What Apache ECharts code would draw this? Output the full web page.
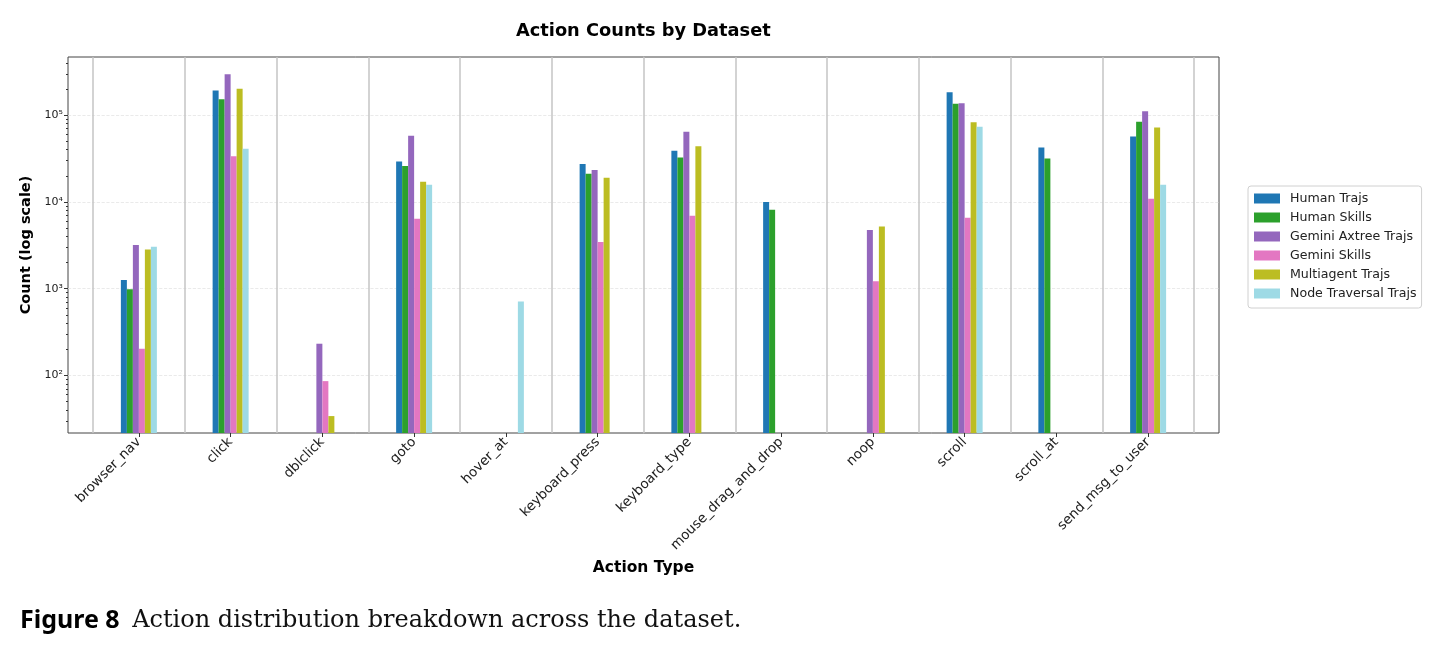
<!DOCTYPE html>
<html>
<head>
<meta charset="utf-8">
<title>Action Counts by Dataset</title>
<script src="https://cdn.jsdelivr.net/npm/echarts@6/dist/echarts.min.js"></script>
<style>
  html, body { margin: 0; padding: 0; background: #fff; }
  #chart { width: 1444px; height: 654px; }
</style>
</head>
<body>
<div id="chart"></div>
<script>
// categories on the x axis
const categories = [
  'browser_nav', 'click', 'dblclick', 'goto', 'hover_at', 'keyboard_press',
  'keyboard_type', 'mouse_drag_and_drop', 'noop', 'scroll', 'scroll_at', 'send_msg_to_user',
];

// counts per dataset (null = no bar)
const humanTrajs = [1260, 192000, null, 29200, null, 27300, 38800, 10000, null, 184000, 42400, 56800];
const humanSkills = [985, 153000, null, 25900, null, 21100, 32500, 8100, null, 135000, 31700, 83800];
const geminiAxtreeTrajs = [3190, 296000, 232, 57800, null, 23300, 64300, null, 4750, 137000, null, 111000];
const geminiSkills = [203, 33700, 86, 6400, null, 3450, 6930, null, 1220, 6580, null, 10900];
const multiagentTrajs = [2820, 201000, 34, 17100, null, 19000, 43900, null, 5220, 83000, null, 71900];
const nodeTraversalTrajs = [3050, 40900, null, 15800, 711, null, null, null, null, 73300, null, 15800];

// y axis ticks
const yTicks = [100, 1000, 10000, 100000];
const yTickLabels = ['10²', '10³', '10⁴', '10⁵'];
const yMin = 21.7;
const yMax = 468000;

let minorTicks = [];
[10, 100, 1000, 10000, 100000].forEach(d => {
  for (let k = 2; k <= 9; k++) {
    let v = k * d;
    if (v > yMin && v < yMax) minorTicks.push(v);
  }
});

const seriesList = [
  { name: 'Human Trajs', color: '#1f77b4', data: humanTrajs },
  { name: 'Human Skills', color: '#2ca02c', data: humanSkills },
  { name: 'Gemini Axtree Trajs', color: '#9467bd', data: geminiAxtreeTrajs },
  { name: 'Gemini Skills', color: '#e377c2', data: geminiSkills },
  { name: 'Multiagent Trajs', color: '#bcbd22', data: multiagentTrajs },
  { name: 'Node Traversal Trajs', color: '#9edae5', data: nodeTraversalTrajs },
];

const font = 'DejaVu Sans';

let option = {
  animation: false,
  backgroundColor: '#fff',
  textStyle: { fontFamily: font },
  title: [
    {
      text: 'Action Counts by Dataset',
      left: 516,
      top: 22,
      padding: 0,
      textStyle: { fontFamily: font, fontSize: 17.8, fontWeight: 'bold', color: '#000' },
    },
    {
      text: '{b|Figure 8}  {s|Action distribution breakdown across the dataset.}',
      left: 20,
      top: 608,
      padding: 0,
      textStyle: {
        rich: {
          b: { fontFamily: 'Noto Sans', fontWeight: 'bold', fontSize: 25, color: '#000' },
          s: { fontFamily: 'DejaVu Serif', fontWeight: 'normal', fontSize: 24, color: '#111' },
        },
      },
    },
  ],
  legend: {
    orient: 'vertical',
    left: 1248,
    top: 186,
    padding: [6, 5, 8, 6],
    itemGap: 6,
    itemWidth: 26,
    itemHeight: 10,
    icon: 'rect',
    borderColor: '#d0d0d0',
    borderWidth: 1,
    borderRadius: 3,
    textStyle: { fontFamily: font, fontSize: 12.6, color: '#222', lineHeight: 12, padding: [0, 0, 0, 5] },
    data: seriesList.map(s => s.name),
  },
  grid: [
    // bars grid (category boundaries)
    { left: 93, right: 250, top: 57, bottom: 221 },
    // frame grid
    { left: 68, right: 225, top: 57, bottom: 221, show: true, borderColor: '#444', borderWidth: 1 },
  ],
  xAxis: [
    {
      type: 'category',
      gridIndex: 0,
      data: categories,
      boundaryGap: true,
      name: 'Action Type',
      nameLocation: 'middle',
      nameGap: 117,
      nameTextStyle: { fontFamily: font, fontSize: 15.5, fontWeight: 'bold', color: '#000' },
      axisLine: { show: false },
      axisTick: { show: true, alignWithLabel: true, length: 4, lineStyle: { color: '#333' } },
      axisLabel: { rotate: 45, margin: 7, fontSize: 13.5, color: '#222', interval: 0 },
      splitLine: { show: true, lineStyle: { color: '#c4c4c4', width: 1.5 } },
    },
    { type: 'value', gridIndex: 1, min: 0, max: 1, show: false },
  ],
  yAxis: [
    { type: 'log', gridIndex: 0, logBase: 10, min: yMin, max: yMax, show: false },
    {
      type: 'log',
      gridIndex: 1,
      position: 'left',
      logBase: 10,
      min: yMin,
      max: yMax,
      name: 'Count (log scale)',
      nameLocation: 'middle',
      nameGap: 23,
      nameTextStyle: { fontFamily: font, fontSize: 14.5, fontWeight: 'bold', color: '#000' },
      axisLine: { show: false },
      axisTick: { show: true, length: 4, customValues: yTicks, lineStyle: { color: '#333' } },
      axisLabel: {
        customValues: yTicks,
        fontSize: 11,
        color: '#222',
        margin: 5,
        formatter: v => yTickLabels[yTicks.indexOf(Math.round(v))] || '',
      },
      splitLine: { show: true, lineStyle: { color: '#e4e4e4', type: 'dashed', width: 0.8 } },
    },
    {
      // minor ticks
      type: 'log',
      gridIndex: 1,
      position: 'left',
      logBase: 10,
      min: yMin,
      max: yMax,
      axisLine: { show: false },
      axisTick: { show: true, length: 2, customValues: minorTicks, lineStyle: { color: '#333' } },
      axisLabel: { show: false },
      splitLine: { show: false },
    },
  ],
  series: seriesList.map(s => ({
    name: s.name,
    type: 'bar',
    xAxisIndex: 0,
    yAxisIndex: 0,
    barWidth: 6,
    barGap: '0%',
    clip: true,
    itemStyle: { color: s.color },
    data: s.data,
  })),
};

let chart = echarts.init(document.getElementById('chart'), null, { renderer: 'canvas' });
chart.setOption(option);
</script>
</body>
</html>
